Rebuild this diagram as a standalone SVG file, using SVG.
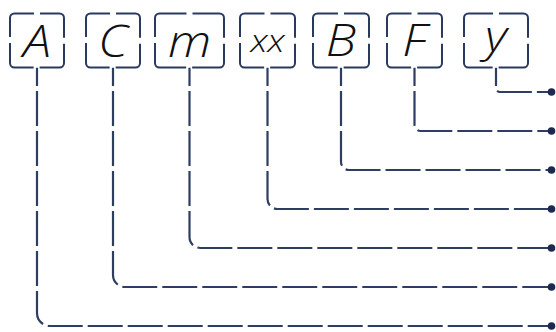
<svg xmlns="http://www.w3.org/2000/svg" width="556" height="332" viewBox="0 0 556 332">
<style>
.box{fill:#fff;stroke:#2a3a5e;stroke-width:2}
.lbl{font-family:"Open Sans","Liberation Sans",sans-serif;font-style:italic;font-weight:300;font-size:44px;fill:#111;text-anchor:middle}
.sm{font-size:32px}
.con{fill:none;stroke:#2e3d62;stroke-width:2.2;stroke-dasharray:35 5;stroke-dashoffset:16.5}
.dot{fill:#1b2a4e}
</style>
<rect width="556" height="332" fill="#fff"/>
<g id="connectors">
<path class="con" d="M37,67.5 V313 A13,13 0 0 0 50,326 H551.5"/>
<path class="con" d="M113,67.5 V275 A12,12 0 0 0 125,287 H551.5"/>
<path class="con" d="M189.5,67.5 V237 A11,11 0 0 0 200.5,248 H551.5"/>
<path class="con" d="M267.5,67.5 V199 A10,10 0 0 0 277.5,209 H551.5"/>
<path class="con" d="M341,67.5 V162 A8,8 0 0 0 349,170 H551.5"/>
<path class="con" d="M414.5,67.5 V125 A6,6 0 0 0 420.5,131 H551.5"/>
<path class="con" d="M496,67.5 V88 A4,4 0 0 0 500,92 H551.5"/>
<circle class="dot" cx="551.5" cy="92" r="3.8"/>
<circle class="dot" cx="551.5" cy="131" r="3.8"/>
<circle class="dot" cx="551.5" cy="170" r="3.8"/>
<circle class="dot" cx="551.5" cy="209" r="3.8"/>
<circle class="dot" cx="551.5" cy="248" r="3.8"/>
<circle class="dot" cx="551.5" cy="287" r="3.8"/>
<circle class="dot" cx="551.5" cy="326" r="3.8"/>
</g>
<g id="node-A">
<rect class="box" x="10" y="13.5" width="54" height="54" rx="4.5" stroke-dasharray="19.5 6 46.07 6 46.07 6 46.07 6 26.57"/>
<text class="lbl" transform="translate(37,56.5) scale(1.15,1)">A</text>
</g>
<g id="node-C">
<rect class="box" x="86" y="13.5" width="54" height="54" rx="4.5" stroke-dasharray="19.5 6 46.07 6 46.07 6 46.07 6 26.57"/>
<text class="lbl" transform="translate(113,56.5) scale(1.15,1)">C</text>
</g>
<g id="node-m">
<rect class="box" x="155" y="13.5" width="69" height="54" rx="4.5" stroke-dasharray="27 6 53.57 6 53.57 6 53.57 6 26.57"/>
<text class="lbl" transform="translate(189.5,56.5) scale(1.15,1)">m</text>
</g>
<g id="node-xx">
<rect class="box" x="240" y="13.5" width="55" height="54" rx="4.5" stroke-dasharray="20 6 46.57 6 46.57 6 46.57 6 26.57"/>
<text class="lbl sm" transform="translate(267.5,51.5) scale(1.15,1)">xx</text>
</g>
<g id="node-B">
<rect class="box" x="313" y="13.5" width="56" height="54" rx="4.5" stroke-dasharray="20.5 6 47.07 6 47.07 6 47.07 6 26.57"/>
<text class="lbl" transform="translate(341,56) scale(1.15,1)">B</text>
</g>
<g id="node-F">
<rect class="box" x="387" y="13.5" width="55" height="54" rx="4.5" stroke-dasharray="20 6 46.57 6 46.57 6 46.57 6 26.57"/>
<text class="lbl" transform="translate(414.5,56) scale(1.15,1)">F</text>
</g>
<g id="node-y">
<rect class="box" x="464" y="13.5" width="64" height="54" rx="4.5" stroke-dasharray="24.5 6 51.07 6 51.07 6 51.07 6 26.57"/>
<text class="lbl" transform="translate(496,52) scale(1.15,1)">y</text>
</g>
</svg>
